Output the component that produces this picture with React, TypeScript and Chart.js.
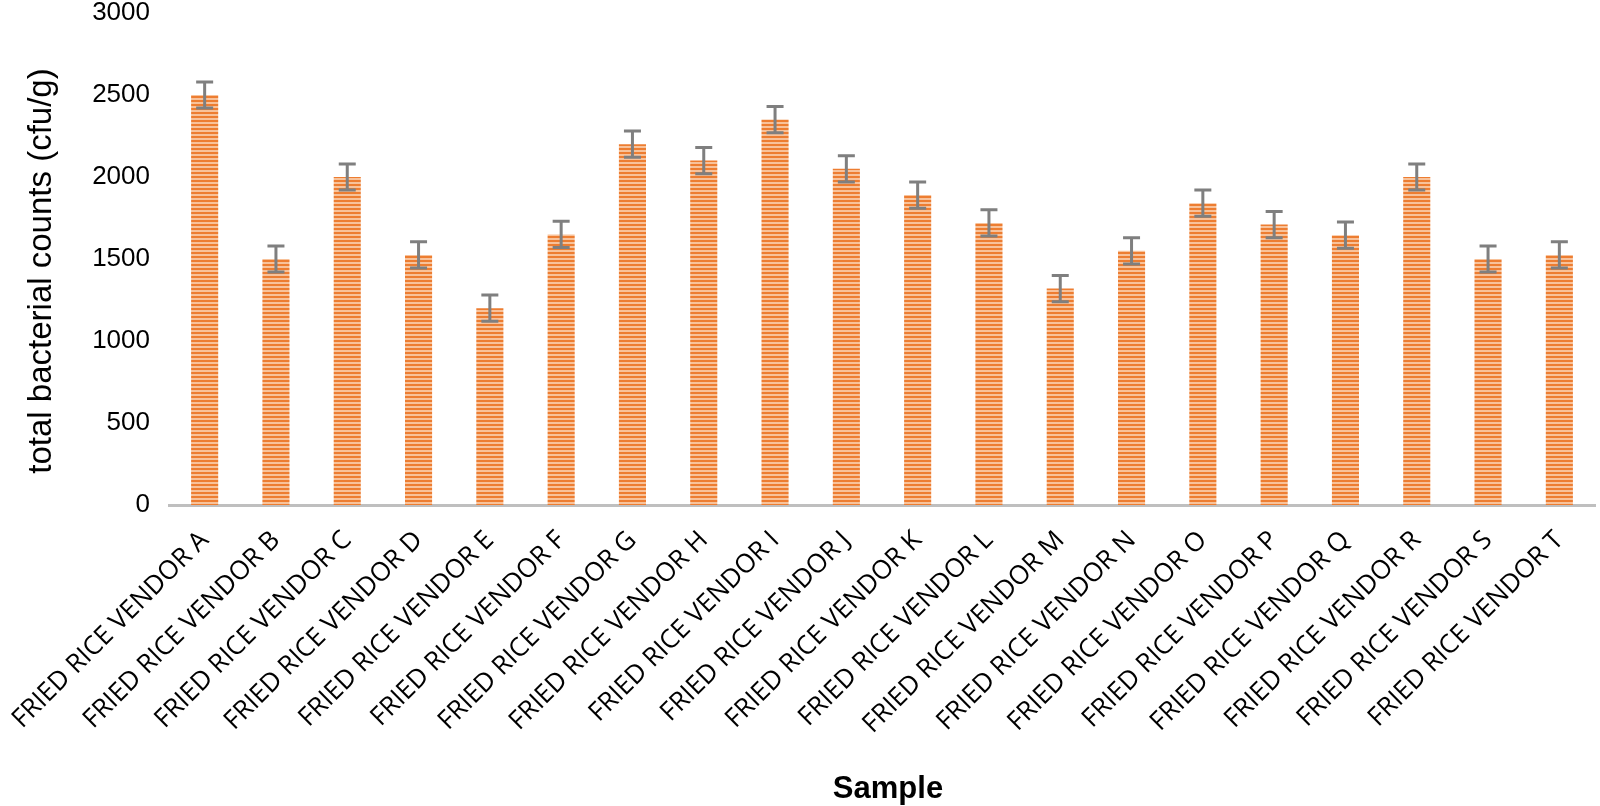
import React, { useEffect, useRef } from "react";
import { Chart, registerables } from "chart.js";

Chart.register(...registerables);

const categories = [
  "FRIED RICE VENDOR A", "FRIED RICE VENDOR B", "FRIED RICE VENDOR C", "FRIED RICE VENDOR D",
  "FRIED RICE VENDOR E", "FRIED RICE VENDOR F", "FRIED RICE VENDOR G", "FRIED RICE VENDOR H",
  "FRIED RICE VENDOR I", "FRIED RICE VENDOR J", "FRIED RICE VENDOR K", "FRIED RICE VENDOR L",
  "FRIED RICE VENDOR M", "FRIED RICE VENDOR N", "FRIED RICE VENDOR O", "FRIED RICE VENDOR P",
  "FRIED RICE VENDOR Q", "FRIED RICE VENDOR R", "FRIED RICE VENDOR S", "FRIED RICE VENDOR T",
];

const counts = [2500, 1500, 2000, 1525, 1200, 1650, 2200, 2100, 2350, 2050, 1890, 1720, 1320, 1550, 1840, 1710, 1645, 2000, 1500, 1525];
const errors = [80, 80, 80, 80, 80, 80, 80, 80, 80, 80, 80, 80, 80, 80, 80, 80, 80, 80, 80, 80];

const yTicks = [0, 500, 1000, 1500, 2000, 2500, 3000];
const yTitle = "total bacterial counts (cfu/g)";
const xTitle = "Sample";

function makePattern(): CanvasPattern | string {
  const c = document.createElement("canvas");
  c.width = 4;
  c.height = 4;
  const g = c.getContext("2d");
  if (!g) return "#ED7D31";
  g.fillStyle = "#F8C29A";
  g.fillRect(0, 0, 4, 4);
  g.fillStyle = "#ED7D31";
  g.fillRect(0, 0, 4, 2);
  const p = g.createPattern(c, "repeat");
  return p || "#ED7D31";
}

const errorBarPlugin = {
  id: "errorBars",
  afterDatasetsDraw(chart: any) {
    const meta = chart.getDatasetMeta(0);
    const ys = chart.scales.y;
    const ctx = chart.ctx;
    ctx.save();
    ctx.strokeStyle = "#7F7F7F";
    ctx.lineWidth = 3;
    meta.data.forEach((bar: any, i: number) => {
      const x = bar.x;
      const top = ys.getPixelForValue(counts[i] + errors[i]);
      const bot = ys.getPixelForValue(counts[i] - errors[i]);
      ctx.beginPath();
      ctx.moveTo(x, top);
      ctx.lineTo(x, bot);
      ctx.moveTo(x - 8.5, top);
      ctx.lineTo(x + 8.5, top);
      ctx.moveTo(x - 8.5, bot);
      ctx.lineTo(x + 8.5, bot);
      ctx.stroke();
    });
    ctx.restore();
  },
};

const titlesPlugin = {
  id: "titles",
  afterDraw(chart: any) {
    const ctx = chart.ctx;
    const area = chart.chartArea;
    ctx.save();
    ctx.fillStyle = "#000";
    ctx.textAlign = "center";
    ctx.textBaseline = "middle";
    ctx.font = "33px 'Liberation Sans', Arial, sans-serif";
    ctx.translate(42, (area.top + area.bottom) / 2 + 12);
    ctx.rotate(-Math.PI / 2);
    ctx.fillText(yTitle, 0, 0);
    ctx.restore();
    ctx.save();
    ctx.fillStyle = "#000";
    ctx.textAlign = "center";
    ctx.textBaseline = "middle";
    ctx.font = "bold 31px 'Liberation Sans', Arial, sans-serif";
    ctx.fillText(xTitle, (area.left + area.right) / 2 + 6, chart.height - 17);
    ctx.restore();
  },
};

export default function App() {
  const ref = useRef<HTMLCanvasElement | null>(null);
  useEffect(() => {
    if (!ref.current) return;
    const chart = new Chart(ref.current, {
      type: "bar",
      data: {
        labels: categories,
        datasets: [
          {
            data: counts,
            backgroundColor: makePattern() as any,
            borderWidth: 0,
            categoryPercentage: 1,
            barPercentage: 0.38,
          },
        ],
      },
      options: {
        animation: false,
        responsive: false,
        maintainAspectRatio: false,
        layout: { padding: { top: 13, right: 5, left: 0, bottom: 0 } },
        plugins: {
          legend: { display: false },
          tooltip: { enabled: false },
        },
        scales: {
          x: {
            grid: { display: false, drawTicks: false },
            border: { display: true, color: "#BFBFBF", width: 3 },
            ticks: {
              autoSkip: false,
              maxRotation: 45,
              minRotation: 45,
              padding: 20,
              color: "#000",
              font: { family: "'Open Sans', sans-serif", size: 26 },
            },
            afterFit(scale: any) {
              scale.height = 301;
              scale.paddingLeft = 0;
              scale.paddingRight = 0;
            },
          },
          y: {
            min: 0,
            max: 3000,
            grid: { display: false, drawTicks: false },
            border: { display: false },
            afterBuildTicks(scale: any) {
              scale.ticks = yTicks.map((v) => ({ value: v }));
            },
            ticks: {
              padding: 19,
              color: "#000",
              font: { family: "'Liberation Sans', Arial, sans-serif", size: 26 },
              callback: (v: any) => String(v),
            },
            afterFit(scale: any) {
              scale.width = 169;
              scale.paddingTop = 0;
              scale.paddingBottom = 0;
            },
          },
        },
      },
      plugins: [errorBarPlugin, titlesPlugin],
    });
    return () => chart.destroy();
  }, []);
  return (
    <div style={{ position: "absolute", left: 0, top: 0, width: 1600, height: 806, background: "#fff" }}>
      <canvas ref={ref} width={1600} height={806} style={{ width: 1600, height: 806, display: "block" }} />
    </div>
  );
}
